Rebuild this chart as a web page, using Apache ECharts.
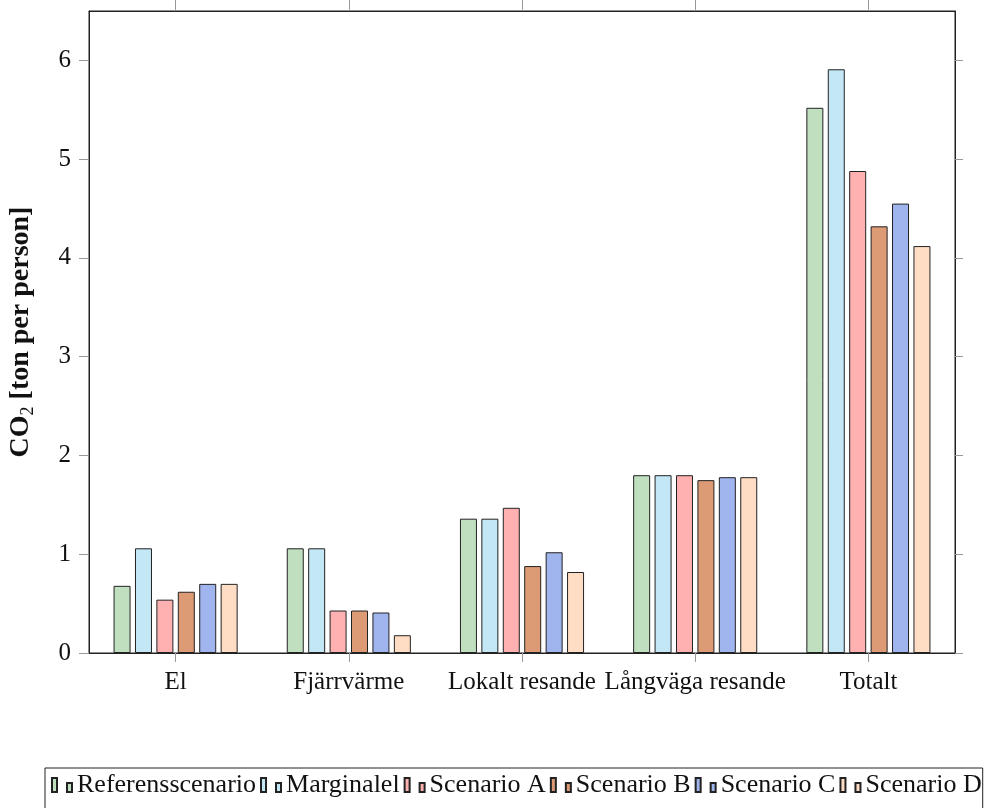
<!DOCTYPE html>
<html>
<head>
<meta charset="utf-8">
<script src="https://cdn.jsdelivr.net/npm/echarts@6/dist/echarts.min.js"></script>
<style>
  html, body { margin: 0; padding: 0; background: #fff; }
  #chart { width: 990px; height: 808px; }
</style>
</head>
<body>
<div id="chart"></div>
<script>
// categories and values
const categories = ['El', 'Fjärrvärme', 'Lokalt resande', 'Långväga resande', 'Totalt'];
const seriesNames = ['Referensscenario', 'Marginalel', 'Scenario A', 'Scenario B', 'Scenario C', 'Scenario D'];
const referens = [0.68, 1.06, 1.36, 1.80, 5.52];
const marginalel = [1.06, 1.06, 1.36, 1.80, 5.91];
const scenarioA = [0.54, 0.43, 1.47, 1.80, 4.88];
const scenarioB = [0.62, 0.43, 0.88, 1.75, 4.32];
const scenarioC = [0.70, 0.41, 1.02, 1.78, 4.55];
const scenarioD = [0.70, 0.18, 0.82, 1.78, 4.12];
const yTicks = [0, 1, 2, 3, 4, 5, 6];

const colors = ['#bfdfbf', '#c4e7f6', '#ffb1b1', '#dc9b74', '#a0b4ee', '#ffdcc4'];
const allValues = [referens, marginalel, scenarioA, scenarioB, scenarioC, scenarioD];

const serif = 'Liberation Serif';
const chart = echarts.init(document.getElementById('chart'));

// two small bars, like the pgfplots legend image
const legendIcon = 'path://M0,0 h5 v14 h-5 Z M15,5 h5 v9 h-5 Z';

const option = {
  animation: false,
  grid: {
    left: 89,
    right: 35,
    top: 11,
    bottom: 155,
    outerBoundsMode: 'none',
    containLabel: false,
    show: true,
    borderColor: '#222',
    borderWidth: 1,
  },
  legend: {
    data: seriesNames,
    left: 45,
    top: 768,
    width: 936,
    padding: [4, 1, 16, 6],
    itemGap: 4,
    itemWidth: 20,
    itemHeight: 14,
    icon: legendIcon,
    borderColor: '#222',
    borderWidth: 1,
    textStyle: { fontFamily: serif, fontSize: 26, color: '#111' },
  },
  xAxis: [
    {
      type: 'category',
      data: categories,
      position: 'bottom',
      axisLine: { show: true, onZero: false, lineStyle: { color: '#222' } },
      axisTick: { show: true, interval: 0, alignWithLabel: true, length: 9, lineStyle: { color: '#999' } },
      axisLabel: { interval: 0, fontFamily: serif, fontSize: 25, color: '#111', margin: 17 },
    },
    {
      type: 'category',
      data: categories,
      position: 'top',
      axisLine: { show: true, onZero: false, lineStyle: { color: '#222' } },
      axisTick: { show: true, interval: 0, alignWithLabel: true, length: 11, lineStyle: { color: '#999' } },
      axisLabel: { show: false },
    },
  ],
  yAxis: [
    {
      type: 'value',
      min: 0,
      max: 6.5,
      interval: 1,
      position: 'left',
      name: '{a|CO}{b|2}{a| [ton per person]}',
      nameLocation: 'middle',
      nameGap: 52,
      nameTextStyle: {
        rich: {
          a: { fontFamily: serif, fontSize: 28, fontWeight: 'bold', color: '#111', lineHeight: 32 },
          b: { fontFamily: serif, fontSize: 18, color: '#111', lineHeight: 32, verticalAlign: 'bottom' },
        },
      },
      axisLine: { show: true, lineStyle: { color: '#222' } },
      axisTick: { show: true, length: 10, customValues: yTicks, lineStyle: { color: '#999' } },
      splitLine: { show: false },
      axisLabel: {
        fontFamily: serif,
        fontSize: 25,
        color: '#111',
        margin: 18,
        customValues: yTicks,
      },
    },
    {
      type: 'value',
      min: 0,
      max: 6.5,
      interval: 1,
      position: 'right',
      axisLine: { show: true, lineStyle: { color: '#222' } },
      axisTick: { show: true, length: 8, customValues: yTicks, lineStyle: { color: '#999' } },
      splitLine: { show: false },
      axisLabel: { show: false },
    },
  ],
  series: seriesNames.map((name, i) => ({
    name: name,
    type: 'bar',
    xAxisIndex: 0,
    yAxisIndex: 0,
    data: allValues[i],
    barWidth: 17,
    barGap: '26%',
    itemStyle: {
      color: colors[i],
      borderColor: '#222',
      borderWidth: 1,
    },
  })),
};

chart.setOption(option);
</script>
</body>
</html>
